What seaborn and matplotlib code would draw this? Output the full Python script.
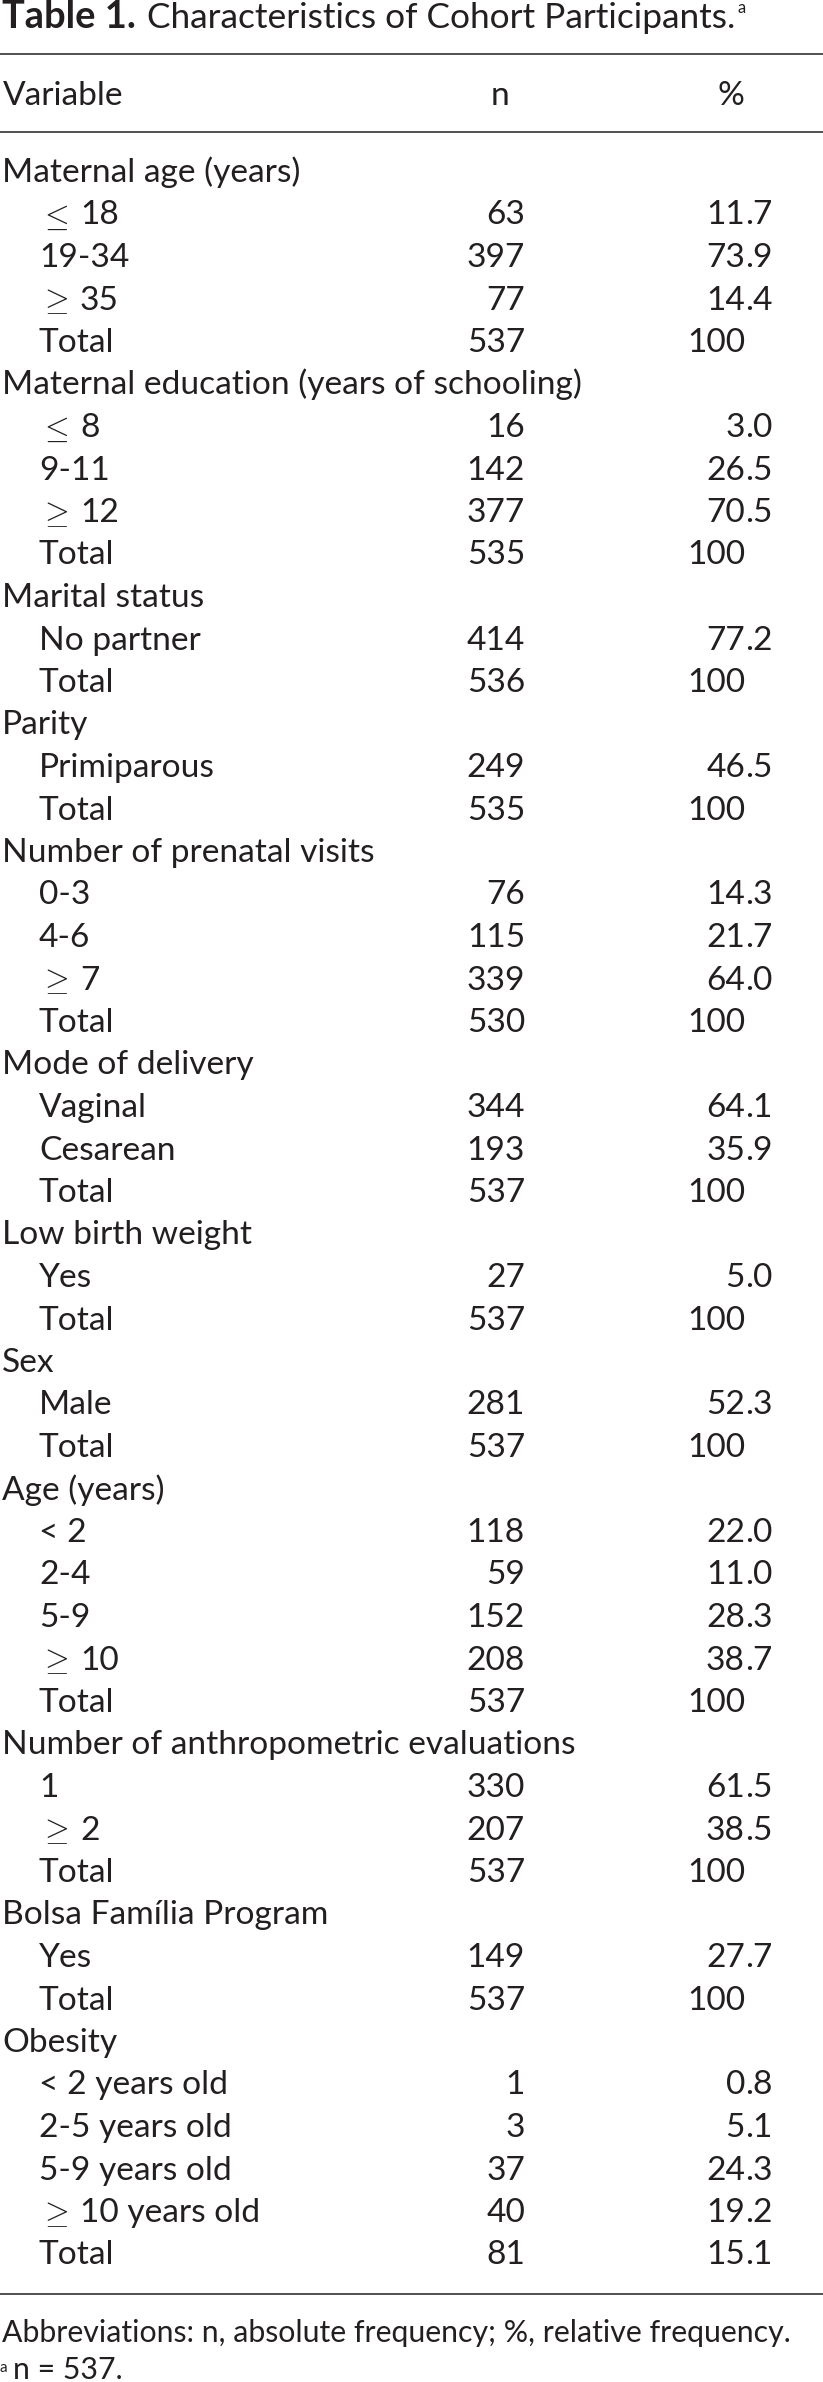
import matplotlib
matplotlib.use("Agg")
import matplotlib.pyplot as plt
import seaborn as sns

# table content
title_bold = "Table 1."
title_rest = " Characteristics of Cohort Participants."
col_headers = ["Variable", "n", "%"]

row_labels = [
    "Maternal age (years)", "≤ 18", "19-34", "≥ 35", "Total",
    "Maternal education (years of schooling)", "≤ 8", "9-11", "≥ 12", "Total",
    "Marital status", "No partner", "Total",
    "Parity", "Primiparous", "Total",
    "Number of prenatal visits", "0-3", "4-6", "≥ 7", "Total",
    "Mode of delivery", "Vaginal", "Cesarean", "Total",
    "Low birth weight", "Yes", "Total",
    "Sex", "Male", "Total",
    "Age (years)", "< 2", "2-4", "5-9", "≥ 10", "Total",
    "Number of anthropometric evaluations", "1", "≥ 2", "Total",
    "Bolsa Família Program", "Yes", "Total",
    "Obesity", "< 2 years old", "2-5 years old", "5-9 years old", "≥ 10 years old", "Total",
]
row_level = [
    0, 1, 1, 1, 1,
    0, 1, 1, 1, 1,
    0, 1, 1,
    0, 1, 1,
    0, 1, 1, 1, 1,
    0, 1, 1, 1,
    0, 1, 1,
    0, 1, 1,
    0, 1, 1, 1, 1, 1,
    0, 1, 1, 1,
    0, 1, 1,
    0, 1, 1, 1, 1, 1,
]
row_n = [
    "", "63", "397", "77", "537",
    "", "16", "142", "377", "535",
    "", "414", "536",
    "", "249", "535",
    "", "76", "115", "339", "530",
    "", "344", "193", "537",
    "", "27", "537",
    "", "281", "537",
    "", "118", "59", "152", "208", "537",
    "", "330", "207", "537",
    "", "149", "537",
    "", "1", "3", "37", "40", "81",
]
row_pct = [
    "", "11.7", "73.9", "14.4", "100",
    "", "3.0", "26.5", "70.5", "100",
    "", "77.2", "100",
    "", "46.5", "100",
    "", "14.3", "21.7", "64.0", "100",
    "", "64.1", "35.9", "100",
    "", "5.0", "100",
    "", "52.3", "100",
    "", "22.0", "11.0", "28.3", "38.7", "100",
    "", "61.5", "38.5", "100",
    "", "27.7", "100",
    "", "0.8", "5.1", "24.3", "19.2", "15.1",
]

footnote_abbr = "Abbreviations: n, absolute frequency; %, relative frequency."
footnote_n = "n = 537."

ink = "#231f20"

sns.set_theme(style="white")
plt.rcParams["font.family"] = ["Lato", "DejaVu Sans"]
plt.rcParams["mathtext.fontset"] = "cm"

W, H = 823, 2382
fig = plt.figure(figsize=(W / 100, H / 100), dpi=100)
ax = fig.add_axes([0, 0, 1, 1])
ax.set_xlim(0, W)
ax.set_ylim(H, 0)
ax.axis("off")
r = fig.canvas.get_renderer()


def fitted_size(text, width, base=23, **kw):
    # font size that makes `text` span `width` pixels
    t = ax.text(0, 0, text, fontsize=base, **kw)
    w = t.get_window_extent(r).width
    t.remove()
    return base * width / w


fs = fitted_size("Maternal education (years of schooling)", 580)
fs_note = fitted_size(footnote_abbr, 792)
fs_tb = fitted_size(title_bold, 134, fontweight="bold")
fs_tr = fitted_size(title_rest.strip(), 589)

x_left, x_indent = 2, 39
x_n, x_dec = 525, 745

# title
ax.text(x_left, 28, title_bold, fontsize=fs_tb, fontweight="bold", color=ink, va="baseline")
ax.text(147, 28, title_rest.strip(), fontsize=fs_tr, color=ink, va="baseline")
ax.text(738, 13, "a", fontsize=12, color=ink, va="baseline")

# rules
ax.hlines([54, 132, 2294], 0, W, color=ink, lw=1.1)

# header
ax.text(3, 105, col_headers[0], fontsize=fs, color=ink, va="baseline")
ax.text(500, 105, col_headers[1], fontsize=fs, color=ink, va="baseline", ha="center")
ax.text(731, 105, col_headers[2], fontsize=fs, color=ink, va="baseline", ha="center")

# body rows
sym = {"≤": r"$\leq$", "≥": r"$\geq$"}
for i, (lab, lev, n, p) in enumerate(zip(row_labels, row_level, row_n, row_pct)):
    y = 182 + 42.5 * i
    x = x_indent if lev else x_left
    if lab[0] in sym:
        ax.text(x, y + 1, sym[lab[0]], fontsize=fs * 0.95, color=ink, va="baseline")
        ax.text(x + 41, y, lab[2:], fontsize=fs, color=ink, va="baseline")
    else:
        ax.text(x, y, lab, fontsize=fs, color=ink, va="baseline")
    if n:
        ax.text(x_n, y, n, fontsize=fs, color=ink, va="baseline", ha="right")
    if p:
        whole, _, frac = p.partition(".")
        ax.text(x_dec, y, whole, fontsize=fs, color=ink, va="baseline", ha="right")
        if frac:
            ax.text(x_dec, y, "." + frac, fontsize=fs, color=ink, va="baseline", ha="left")

# footnotes
ax.text(x_left, 2342, footnote_abbr, fontsize=fs_note, color=ink, va="baseline")
ax.text(0, 2372, "a", fontsize=11, color=ink, va="baseline")
ax.text(13, 2379, footnote_n, fontsize=fs_note, color=ink, va="baseline")

fig.savefig("out.png", dpi=100)
plt.close(fig)
